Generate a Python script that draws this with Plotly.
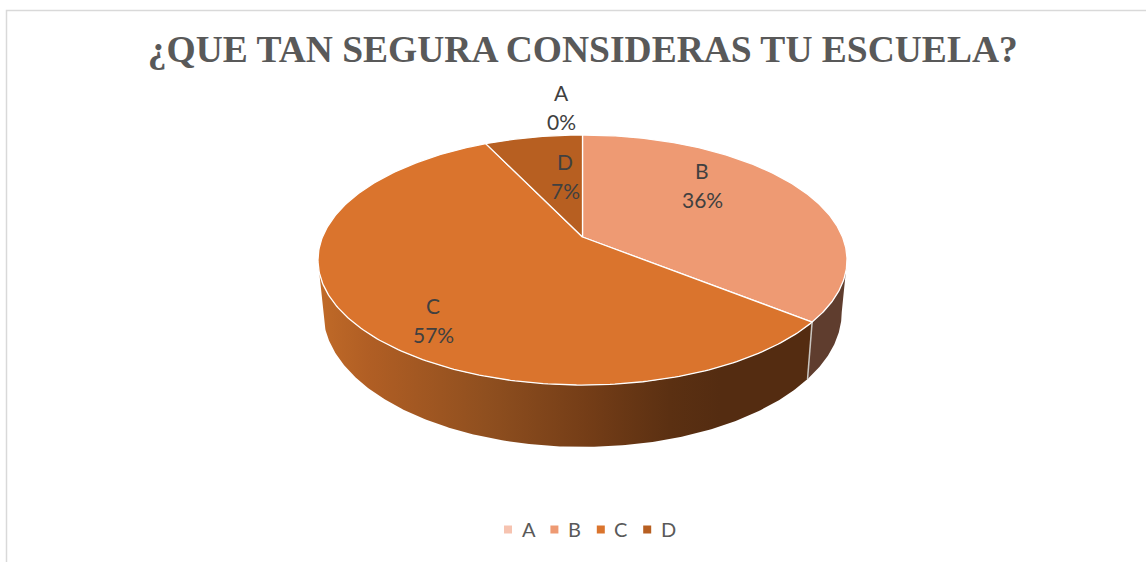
import numpy as np
import plotly.graph_objects as go

title = "¿QUE TAN SEGURA CONSIDERAS TU ESCUELA?"
categories = ["A", "B", "C", "D"]
values = [0, 5, 8, 1]
colors = ["#f6c3b0", "#ee9a73", "#da742d", "#b75f21"]
label_pos = {"A": (561, 107), "B": (702, 185), "C": (433, 319.5), "D": (565, 175.5)}

# pie geometry in pixels: apex, perspective strength, radii, wall depth
X0, Y0 = 582.5, 237.0
K, A, B = 0.184, 260.0, 120.8
WALL_D, WALL_SCALE = 50.5, 0.98

# side wall shading of slice C, left to right
wall_stops = [[0.0, "#c06a28"], [0.098, "#b05e24"], [0.32, "#8f4f1f"], [0.51, "#743d17"],
              [0.665, "#5b3012"], [0.76, "#542c11"], [1.0, "#542c11"]]
wall_b_slice = "#5f3d2e"

LEGEND_X, LEGEND_STEP, LEGEND_Y = 508, 46.4, 529.5


def top_rim(theta):
    w = 1 + K * np.cos(theta)
    return X0 + A * np.sin(theta) / w, Y0 - B * np.cos(theta) / w


def bottom_rim(theta):
    x, y = top_rim(theta)
    return X0 + (x - X0) * WALL_SCALE, y + WALL_D / (1 + K * np.cos(theta))


fig = go.Figure()
total = sum(values)
edges = np.cumsum([0] + values) / total * 2 * np.pi

# side wall first, only the part in front of the rim's left and right extremes
for cat, v, a0, a1 in zip(categories, values, edges[:-1], edges[1:]):
    if v == 0 or cat == "D":
        continue
    ts = np.linspace(a0, a1, 360)
    ts = ts[np.cos(ts) <= -K]
    tx, ty = top_rim(ts)
    bx, by = bottom_rim(ts[::-1])
    wall = dict(x=np.concatenate([tx, bx, tx[:1]]), y=np.concatenate([ty, by, ty[:1]]),
                mode="lines", fill="toself", line=dict(width=0),
                hoverinfo="skip", showlegend=False)
    if cat == "C":
        wall["fillgradient"] = dict(type="horizontal", colorscale=wall_stops, start=318, stop=847)
    else:
        wall["fillcolor"] = wall_b_slice
    fig.add_trace(go.Scatter(**wall))

# light seam on the wall between B and C
sx = [top_rim(edges[2])[0], bottom_rim(edges[2])[0]]
sy = [top_rim(edges[2])[1], bottom_rim(edges[2])[1]]
fig.add_trace(go.Scatter(x=sx, y=sy, mode="lines",
                         line=dict(color="#c9c5c0", width=1.5),
                         hoverinfo="skip", showlegend=False))

# top slices
for cat, v, col, a0, a1 in zip(categories, values, colors, edges[:-1], edges[1:]):
    if v == 0:
        continue
    ts = np.linspace(a0, a1, 240)
    rx, ry = top_rim(ts)
    fig.add_trace(go.Scatter(
        x=np.concatenate([[X0], rx, [X0]]), y=np.concatenate([[Y0], ry, [Y0]]),
        mode="lines", fill="toself", fillcolor=col,
        line=dict(color="#ffffff", width=1.3),
        name=cat, hoverinfo="skip", showlegend=False,
    ))

# legend drawn by hand, plotly's own has too wide a symbol column
legend_xs = [LEGEND_X + i * LEGEND_STEP for i in range(len(categories))]
fig.add_trace(go.Scatter(x=legend_xs, y=[LEGEND_Y] * len(categories), mode="markers",
                         marker=dict(symbol="square", size=8, color=colors, line=dict(width=0)),
                         hoverinfo="skip", showlegend=False))
for cat, lx in zip(categories, legend_xs):
    fig.add_annotation(x=lx + 11.5, y=LEGEND_Y - 1, text=cat, showarrow=False,
                       xanchor="left", yanchor="middle",
                       font=dict(family="Lato", size=20, color="#595959"))

for cat, v in zip(categories, values):
    lx, ly = label_pos[cat]
    for text, shift in [(cat, 14.5), (f"{round(v / total * 100)}%", -14.5)]:
        fig.add_annotation(x=lx, y=ly, text=text, yshift=shift,
                           showarrow=False, xanchor="center", yanchor="middle",
                           font=dict(family="Lato", size=21, color="#404040"))

fig.update_layout(
    width=1146, height=562,
    margin=dict(l=0, r=0, t=0, b=0),
    paper_bgcolor="#ffffff", plot_bgcolor="#ffffff",
    showlegend=False,
    title=dict(text=f"<b>{title}</b>", x=0.5085, xanchor="center", y=0.913, yanchor="middle",
               font=dict(family="Liberation Serif", size=37.5, color="#595959")),
    xaxis=dict(range=[0, 1146], visible=False, fixedrange=True),
    yaxis=dict(range=[562, 0], visible=False, fixedrange=True),
    shapes=[dict(type="path", path="M 6.5 562 L 6.5 10.5 L 1146 10.5",
                 xref="x", yref="y", line=dict(color="#d9d9d9", width=1.5))],
)

# the page's default body margin would push the chart 8px off
fig.write_html("out.html", config=dict(displayModeBar=False),
               post_script="document.body.style.margin='0';document.body.style.overflow='hidden';")
